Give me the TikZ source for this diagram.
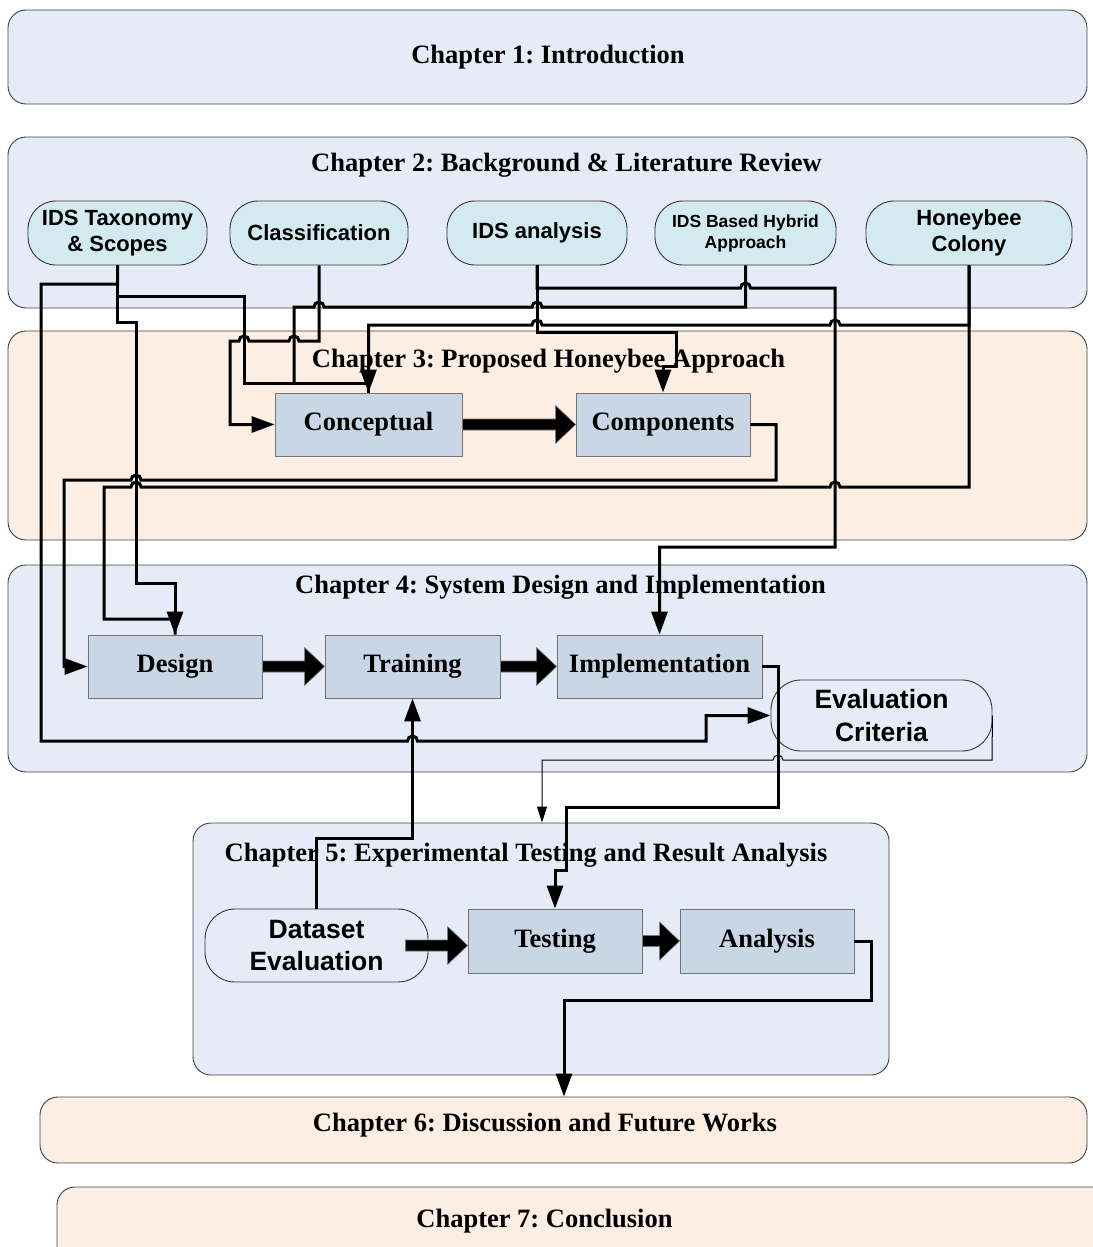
\documentclass[tikz,border=0pt]{standalone}
\usepackage{fontspec}
\setmainfont{Liberation Serif}
\newfontfamily\sansfam{Liberation Sans}
\usetikzlibrary{arrows.meta,calc}
\frenchspacing

\definecolor{chblue}{HTML}{E6ECF7}
\definecolor{chpeach}{HTML}{FCEEE2}
\definecolor{procfill}{HTML}{C9D6E6}
\definecolor{bubfill}{HTML}{D3EBF0}

% line jump over a vertical line at x=#1, y=#2 (moving right / moving left)
\newcommand\jumpR[2]{-- ({#1-5},#2) arc[start angle=180,end angle=0,radius=5pt]}
\newcommand\jumpL[2]{-- ({#1+5},#2) arc[start angle=0,end angle=180,radius=5pt]}

% thick block arrow between two horizontally aligned anchors
\newcommand\fatarrow[2]{%
  \filldraw[fill=black, draw=black!55, line width=0.6pt]
    let \p1=(#1), \p2=(#2) in
    (\x1,\y1+5.5pt) -- (\x2-20pt,\y1+5.5pt) -- (\x2-20pt,\y1+19pt) -- (\x2,\y1)
    -- (\x2-20pt,\y1-19pt) -- (\x2-20pt,\y1-5.5pt) -- (\x1,\y1-5.5pt) -- cycle;}

\begin{document}
\begin{tikzpicture}[x=1pt,y=-1pt,
  chap/.style={draw=black!75, line width=0.9pt, rounded corners=18pt, inner sep=0pt},
  ttl/.style={font=\fontsize{26.5}{30}\selectfont\bfseries, inner sep=0pt},
  proc/.style={draw=black!55, line width=0.9pt, fill=procfill, inner sep=0pt,
    minimum height=63pt, font=\fontsize{26.5}{30}\selectfont\bfseries},
  bub/.style={draw=black!80, line width=0.9pt, fill=bubfill, rounded corners=28pt,
    inner sep=0pt, minimum height=64pt, align=center,
    font=\sansfam\bfseries\fontsize{22}{26}\selectfont},
  openbub/.style={draw=black!80, line width=0.9pt, rounded corners=30pt,
    inner sep=0pt, align=center,
    font=\sansfam\bfseries\fontsize{26.5}{32.5}\selectfont},
  conn/.style={line width=3pt},
  arr/.style={conn, -{Triangle[length=23pt,width=16pt]}},
  thinarr/.style={line width=1pt, -{Triangle[length=16pt,width=10pt]}}
]
\useasboundingbox (0,0) rectangle (1092,1247);

% chapter frames
\node[chap, fill=chblue,  minimum width=1079pt, minimum height=94pt]  (ch1) at (547.5,57) {};
\node[chap, fill=chblue,  minimum width=1079pt, minimum height=171pt] (ch2) at (547.5,222.5) {};
\node[chap, fill=chpeach, minimum width=1079pt, minimum height=209pt] (ch3) at (547.5,435.5) {};
\node[chap, fill=chblue,  minimum width=1079pt, minimum height=207pt] (ch4) at (547.5,668.5) {};
\node[chap, fill=chblue,  minimum width=696pt,  minimum height=252pt] (ch5) at (541,949) {};
\node[chap, fill=chpeach, minimum width=1047pt, minimum height=66pt]  (ch6) at (563.5,1130) {};
\node[chap, fill=chpeach, minimum width=1056pt, minimum height=78pt]  (ch7) at (585,1226) {};

% chapter titles
\node[ttl] (t1) at (548,57)    {Chapter 1: Introduction};
\node[ttl] (t2) at (566.5,165) {Chapter 2: Background \& Literature Review};
\node[ttl] (t3) at (548.5,361) {Chapter 3: Proposed Honeybee Approach};
\node[ttl] (t4) at (560.5,587) {Chapter 4: System Design and Implementation};
\node[ttl] (t5) at (526,855)   {Chapter 5: Experimental Testing and Result Analysis};
\node[ttl] (t6) at (545,1125)  {Chapter 6: Discussion and Future Works};
\node[ttl] (t7) at (544.5,1221){Chapter 7: Conclusion};

% chapter 2 topics
\node[bub, minimum width=179pt] (tax) at (117.5,233) {IDS Taxonomy\\\& Scopes};
\node[bub, minimum width=178pt] (cls) at (319,233)   {Classification};
\node[bub, minimum width=180pt] (ana) at (537,233)   {IDS analysis};
\node[bub, minimum width=181pt, font=\sansfam\bfseries\fontsize{17.5}{21}\selectfont]
      (hyb) at (745.5,233) {IDS Based Hybrid\\Approach};
\node[bub, minimum width=206pt] (hon) at (969,233)   {Honeybee\\Colony};

% process boxes
\node[proc, minimum width=187pt] (concept) at (368.5,424.5) {Conceptual};
\node[proc, minimum width=174pt] (comp)    at (663,424.5)   {Components};
\node[proc, minimum width=174pt] (design)  at (175,666.5)   {Design};
\node[proc, minimum width=175pt] (train)   at (412.5,666.5) {Training};
\node[proc, minimum width=205pt] (impl)    at (659.5,666.5) {Implementation};
\node[openbub, minimum width=221pt, minimum height=71pt] (eval) at (881.5,715.5) {Evaluation\\Criteria};
\node[openbub, minimum width=223pt, minimum height=73pt] (data) at (316.5,945.5) {Dataset\\Evaluation};
\node[proc, minimum width=174pt, minimum height=64pt] (test) at (555,941) {Testing};
\node[proc, minimum width=174pt, minimum height=64pt] (anl)  at (767,941) {Analysis};

% bend points of the two connectors that end on a frame
\coordinate (evbend) at (542,760);
\coordinate (anbend) at (564,1000);

% block arrows
\fatarrow{concept.east}{comp.west}
\fatarrow{design.east}{train.west}
\fatarrow{train.east}{impl.west}
\fatarrow{[xshift=-23pt]data.east}{test.west}
\fatarrow{test.east}{anl.west}

% connectors
\draw[arr] (tax.south) -- (117.5,284) -- (41,284) -- (41,741) \jumpR{412.5}{741}
  -- (706,741) |- (eval.west);
\draw[arr] (tax.south) -- (117.5,322) -- (136,322) -- (136,583) -- (175,583) -- (design.north);
\draw[conn] (tax.south) -- (117.5,296) -- (244,296) -- (244,383) -- (368.5,383) -- (concept.north);
\draw[conn] (hyb.south) -- (745.5,307) \jumpL{537}{307} \jumpL{319}{307} -- (294,307) -- (294,383);
\draw[arr] (hon.south) -- (969,325) \jumpL{835}{325} \jumpL{537}{325} -- (368.5,325) -- (concept.north);
\draw[conn] (hon.south) -- (969,487) \jumpL{835}{487} \jumpL{136}{487} -- (104,487) -- (104,619)
  -- (175,619) -- (design.north);
\draw[arr] (comp.east) -- (776,424.5) -- (776,480) \jumpL{136}{480} -- (64,480) |- (design.west);
\draw[arr] (cls.south) -- (319,341) \jumpL{294}{341} \jumpL{244}{341} -- (230,341) |- (concept.west);
\draw[arr] (ana.south) -- (537,332) -- (676,332) -- (676,366) -- (663,366) -- (comp.north);
\draw[arr] (ana.south) -- (537,288) \jumpR{745.5}{288} -- (835,288) -- (835,547) -- (659.5,547)
  -- (impl.north);
\draw[arr] (impl.east) -- (778,666.5) -- (778,807) -- (566,807) -- (566,870) -- (555,870)
  -- (test.north);
\draw[thinarr] (eval.east) -- (992,760) \jumpL{778}{760} -- (evbend) -- (evbend |- ch5.north);
\draw[arr] (data.north) -- (316.5,838) -- (412.5,838) -- (train.south);
\draw[arr] (anl.east) -- (871,941) -- (871,1000) -- (anbend) -- (anbend |- ch6.north);
\end{tikzpicture}
\end{document}
